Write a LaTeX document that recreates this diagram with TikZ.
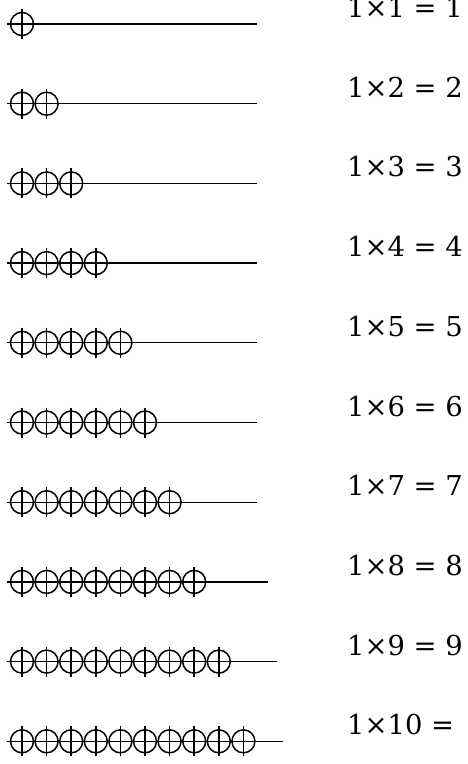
\documentclass[tikz,border=0pt]{standalone}
\usepackage{fontspec}
\setmainfont{DejaVu Serif}

\begin{document}
\begin{tikzpicture}[
  x=1pt, y=-1pt,
  wire/.style={line width=1.3pt},
  bead/.style={draw,circle,line width=1.5pt,minimum size=23pt,inner sep=0pt},
  tick/.style={line width=1.5pt},
  sum/.style={anchor=base west,inner sep=0pt,font=\fontsize{27.4}{32}\selectfont}
]
  \useasboundingbox (0,0) rectangle (467,764);
  % One row per product: n beads on a wire, then the sum.
  \foreach \n/\e/\r in {1/257/1,2/257/2,3/257/3,4/257/4,5/257/5,
                        6/257/6,7/257/7,8/268/8,9/277/9,10/283/{}} {
    \pgfmathsetmacro\yy{24+79.7*(\n-1)}
    \coordinate (start\n) at (7,\yy);
    \coordinate (end\n) at (\e,\yy);
    \draw[wire] (start\n) -- (end\n);
    \foreach \k in {1,...,\n} {
      \node[bead] (bead\n-\k) at ({22+24.6*(\k-1)},\yy) {};
      \draw[tick] ([yshift=15pt]bead\n-\k.center) -- ([yshift=-15pt]bead\n-\k.center);
    }
    \node[sum] (sum\n) at (347,\yy-6.5) {1×\n{} = \r};
  }
\end{tikzpicture}
\end{document}
